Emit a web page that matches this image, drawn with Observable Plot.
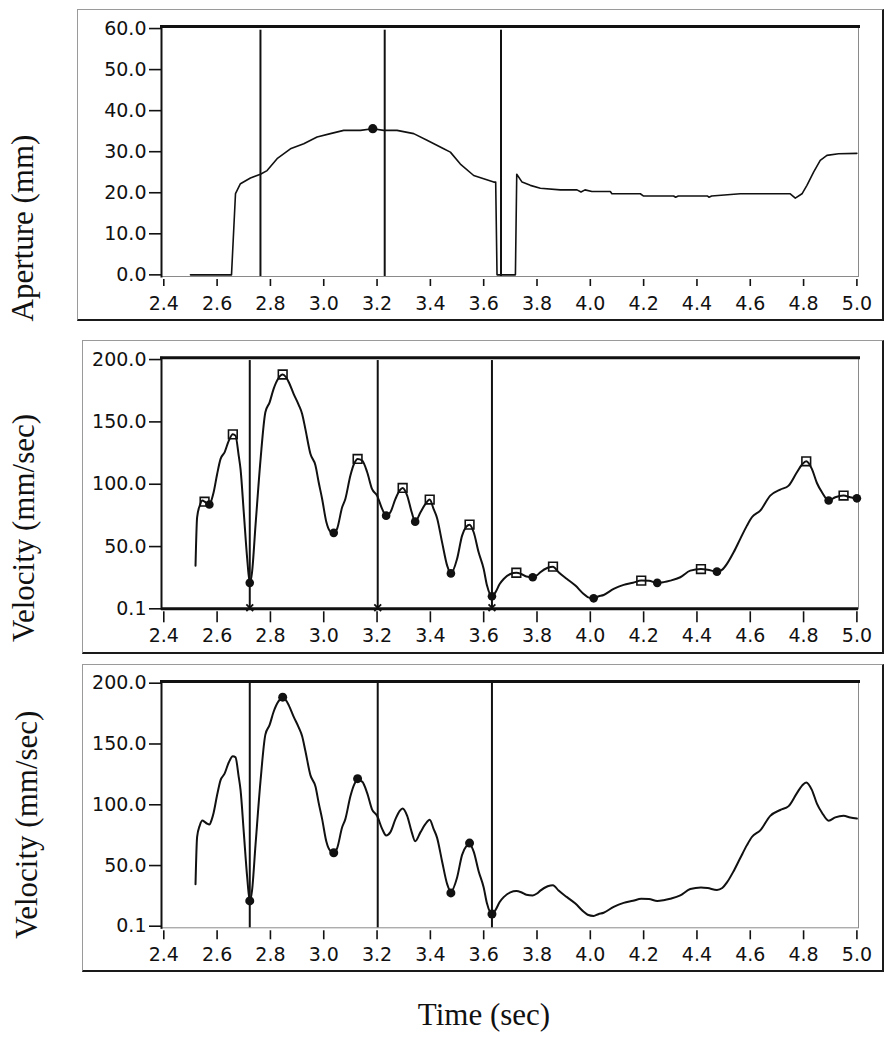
<!DOCTYPE html>
<html>
<head>
<meta charset="utf-8">
<script src="https://cdn.jsdelivr.net/npm/d3@7"></script>
<script src="https://cdn.jsdelivr.net/npm/@observablehq/plot@0.6"></script>
<style>
  body { margin: 0; background: #fff; }
  #wrap { position: relative; width: 892px; height: 1050px; overflow: hidden; background: #fff; }
  .panel { position: absolute; box-sizing: border-box;
           border-left: 1.5px solid #9a9a9a; border-top: 1.5px solid #9a9a9a;
           border-right: 2.5px solid #1a1a1a; border-bottom: 2.5px solid #1a1a1a; }
  .chart { position: absolute; left: 0; }
  .chart svg { overflow: visible; }
  #xlab { position: absolute; top: 999px; left: 484px; transform: translateX(-50%);
          font-family: "Liberation Serif", "Times New Roman", serif; font-size: 31px;
          line-height: 31px; color: #111; white-space: nowrap; }
</style>
</head>
<body>
<div id="wrap">
  <div class="panel" style="left:77px;top:9px;width:807px;height:312px;"></div>
  <div class="panel" style="left:82px;top:340px;width:802px;height:314px;"></div>
  <div class="panel" style="left:82px;top:664px;width:802px;height:308px;"></div>
  <div class="chart" id="p1" style="top:0px;"></div>
  <div class="chart" id="p2" style="top:330px;"></div>
  <div class="chart" id="p3" style="top:660px;"></div>
  <div id="xlab">Time (sec)</div>
</div>
<script>
// ---------- data ----------
const timeTicks = [2.4, 2.6, 2.8, 3.0, 3.2, 3.4, 3.6, 3.8, 4.0, 4.2, 4.4, 4.6, 4.8, 5.0];
const apertureTicks = [0, 10, 20, 30, 40, 50, 60];
const velocityTicks = [0.1, 50, 100, 150, 200];

const apertureLabel = "Aperture (mm)";
const velocityLabel = "Velocity (mm/sec)";

// aperture trace
const apT = [2.500, 2.654, 2.669, 2.6875, 2.725, 2.7625, 2.7875, 2.825, 2.875, 2.925, 2.975, 3.025, 3.075, 3.1375, 3.184, 3.225, 3.275, 3.3375, 3.3875, 3.45, 3.475, 3.5125, 3.5625, 3.60, 3.6375, 3.645, 3.65, 3.719, 3.724, 3.744, 3.775, 3.8125, 3.8875, 3.95, 3.965, 3.98, 4.006, 4.075, 4.081, 4.1875, 4.2, 4.3125, 4.32, 4.33, 4.44, 4.445, 4.455, 4.5625, 4.75, 4.769, 4.794, 4.8125, 4.8375, 4.8625, 4.8875, 4.931, 5.0];
const apV = [0, 0, 19.8, 22.2, 23.6, 24.5, 25.4, 28.3, 30.7, 31.95, 33.6, 34.4, 35.2, 35.2, 35.6, 35.2, 35.2, 34.4, 32.8, 30.7, 29.9, 27, 24.2, 23.4, 22.6, 22.6, 0, 0, 24.5, 22.6, 21.8, 21.1, 20.7, 20.7, 20.2, 20.7, 20.3, 20.3, 19.75, 19.75, 19.2, 19.2, 18.9, 19.2, 19.2, 18.9, 19.2, 19.75, 19.75, 18.7, 19.75, 21.8, 25, 27.9, 29.1, 29.5, 29.6];
const apPeakT = [3.184];
const apPeakV = [35.6];
const apEvents = [2.7626, 3.2287, 3.665];

// velocity trace
const velT = [2.519, 2.525, 2.535, 2.545, 2.553, 2.562, 2.571, 2.58, 2.587, 2.600, 2.613, 2.628, 2.644, 2.659, 2.669, 2.681, 2.688, 2.700, 2.713, 2.7225, 2.731, 2.744, 2.763, 2.781, 2.797, 2.812, 2.830, 2.846, 2.858, 2.869, 2.887, 2.906, 2.919, 2.931, 2.950, 2.969, 2.981, 2.994, 3.010, 3.025, 3.0375, 3.050, 3.069, 3.081, 3.100, 3.115, 3.127, 3.144, 3.163, 3.181, 3.200, 3.219, 3.234, 3.250, 3.269, 3.285, 3.296, 3.313, 3.330, 3.343, 3.363, 3.381, 3.3975, 3.412, 3.425, 3.444, 3.463, 3.477, 3.500, 3.519, 3.535, 3.547, 3.5625, 3.581, 3.600, 3.6125, 3.631, 3.644, 3.660, 3.675, 3.700, 3.7225, 3.741, 3.760, 3.784, 3.800, 3.8125, 3.840, 3.860, 3.881, 3.9125, 3.944, 3.975, 3.990, 4.0125, 4.030, 4.050, 4.0875, 4.125, 4.160, 4.191, 4.220, 4.251, 4.275, 4.300, 4.3375, 4.375, 4.415, 4.440, 4.475, 4.495, 4.5125, 4.5375, 4.5625, 4.5875, 4.606, 4.6375, 4.675, 4.7125, 4.744, 4.775, 4.795, 4.81, 4.831, 4.850, 4.869, 4.894, 4.919, 4.95, 4.975, 5.0];
const velV = [34.7, 73.5, 83, 87, 86, 84.5, 83.7, 88, 93.5, 108, 120.3, 125.6, 135, 140, 139, 123, 112, 77.5, 40, 20.9, 29.4, 66.8, 120, 157.7, 165.7, 176.5, 185, 188, 186, 181.8, 172.5, 163.7, 156.4, 144.4, 124.4, 115, 101.6, 88.2, 69.5, 62, 61, 64.2, 81.5, 88.2, 107, 117, 120.3, 119, 109.6, 96.3, 90.9, 80.2, 74.8, 77.5, 88.2, 95, 97, 90.9, 77.5, 70, 77.5, 84, 87.7, 80.2, 73, 53.4, 34.7, 28.5, 40, 58.8, 66, 67.6, 61.5, 45.4, 32, 18.7, 10.1, 13.3, 20, 24, 28, 29, 28, 26, 25.4, 27, 29.4, 33, 33.9, 29.4, 24, 18.7, 12, 9.5, 8.5, 10, 11.2, 16, 19.3, 21, 22.7, 22.5, 20.9, 21.5, 22.7, 25.4, 30.7, 32, 31.5, 29.9, 31.5, 36.1, 45.4, 56.2, 66.8, 73.5, 78.9, 90.9, 95.7, 98.9, 109.6, 116, 118.4, 112.3, 101, 93.5, 86.9, 89.6, 90.9, 89.5, 88.7];
const velEvents = [2.7225, 3.2025, 3.631];

// middle panel markers
const peakT = [2.553, 2.659, 2.846, 3.127, 3.296, 3.3975, 3.547, 3.7225, 3.860, 4.191, 4.415, 4.81, 4.95];
const peakV = [86, 140, 188, 120.3, 97, 87.7, 67.6, 29, 33.9, 22.7, 32, 118.4, 90.9];
const troughT = [2.571, 2.7225, 3.0375, 3.234, 3.343, 3.477, 3.631, 3.784, 4.0125, 4.251, 4.475, 4.894, 5.0];
const troughV = [83.7, 20.9, 61, 74.8, 70, 28.5, 10.1, 25.4, 8.5, 20.9, 29.9, 86.9, 88.7];

// bottom panel markers
const keyT = [2.7225, 2.846, 3.0375, 3.127, 3.477, 3.547, 3.631];
const keyV = [20.9, 188.5, 60.5, 121.5, 27.5, 68.5, 10.1];

// ---------- helpers ----------
const rows = (xs, ys) => xs.map((x, i) => ({x, y: ys[i]}));
const fmt = d3.format(".1f");
const ink = "#111";
const xDomain = [2.3914, 5.006];

function base(o) {
  return Plot.plot({
    width: 892,
    height: 330,
    marginLeft: 161,
    marginRight: 34,
    marginTop: o.mt,
    marginBottom: o.mb,
    style: {fontFamily: "'DejaVu Sans', Verdana, sans-serif", fontSize: "19px", color: ink, background: "transparent", overflow: "visible"},
    x: {domain: xDomain},
    y: {domain: o.yDomain},
    marks: o.marks
  });
}

function commonMarks(o) {
  return [
    Plot.frame({stroke: "#8a8a8a", strokeWidth: 1}),
    Plot.frame({anchor: "top", stroke: ink, strokeWidth: 3}),
    Plot.frame({anchor: "left", stroke: ink, strokeWidth: 2}),
    Plot.axisY({ticks: o.yTicks, tickSize: 12, tickPadding: 3, tickFormat: fmt, label: null, strokeWidth: 1.6}),
    Plot.axisX({ticks: timeTicks, tickSize: o.xTickSize, tickPadding: o.xPad, dy: 3, tickFormat: fmt, label: null, strokeWidth: 1.6}),
    Plot.text([o.label], {text: d => d, frameAnchor: "left", rotate: -90, dx: o.ldx, dy: o.ldy, lineAnchor: "bottom", textAnchor: "middle",
      fontFamily: "'Liberation Serif', 'Times New Roman', serif", fontSize: 31, fill: ink})
  ];
}

// ---------- panel 1: aperture ----------
document.getElementById("p1").append(base({
  mt: 26, mb: 54, yDomain: [-0.4, 60.5],
  marks: [
    ...commonMarks({yTicks: apertureTicks, xTickSize: 7, xPad: 10, label: apertureLabel, ldx: -129, ldy: 76.5}),
    Plot.ruleX(apEvents, {x: d => d, y1: -0.4, y2: 59.6, stroke: ink, strokeWidth: 2}),
    Plot.line(rows(apT, apV), {x: "x", y: "y", stroke: ink, strokeWidth: 1.6}),
    Plot.dot(rows(apPeakT, apPeakV), {x: "x", y: "y", r: 4.6, fill: ink, stroke: "none"})
  ]
}));

// ---------- panel 2: velocity with peaks / troughs ----------
document.getElementById("p2").append(base({
  mt: 27.3, mb: 51.7, yDomain: [0.1, 201.4],
  marks: [
    ...commonMarks({yTicks: velocityTicks, xTickSize: 11, xPad: 6, label: velocityLabel, ldx: -128, ldy: 44.7}),
    Plot.ruleX(velEvents, {x: d => d, y1: 0.1, y2: 199.2, stroke: ink, strokeWidth: 2}),
    Plot.ruleY([0.1], {stroke: ink, strokeWidth: 3}),
    Plot.line(rows(velT, velV), {x: "x", y: "y", curve: "monotone-x", stroke: ink, strokeWidth: 2}),
    Plot.dot(velEvents, {x: d => d, y: 0.1, dy: -1, symbol: "times", r: 3.2, stroke: ink, strokeWidth: 1.8}),
    Plot.dot(rows(troughT, troughV), {x: "x", y: "y", r: 4.3, fill: ink, stroke: "none"}),
    Plot.dot(rows(peakT, peakV), {x: "x", y: "y", symbol: "square", r: 4.9, fill: "none", stroke: ink, strokeWidth: 1.6})
  ]
}));

// ---------- panel 3: velocity with key points ----------
document.getElementById("p3").append(base({
  mt: 21, mb: 62.7, yDomain: [-1.2, 201.4],
  marks: [
    ...commonMarks({yTicks: velocityTicks, xTickSize: 9, xPad: 7.5, label: velocityLabel, ldx: -124.5, ldy: 20}),
    Plot.ruleX(velEvents, {x: d => d, y1: -1.2, y2: 199.8, stroke: ink, strokeWidth: 2}),
    Plot.line(rows(velT, velV), {x: "x", y: "y", curve: "monotone-x", stroke: ink, strokeWidth: 2}),
    Plot.dot(rows(keyT, keyV), {x: "x", y: "y", r: 4.5, fill: ink, stroke: "none"})
  ]
}));
</script>
</body>
</html>
